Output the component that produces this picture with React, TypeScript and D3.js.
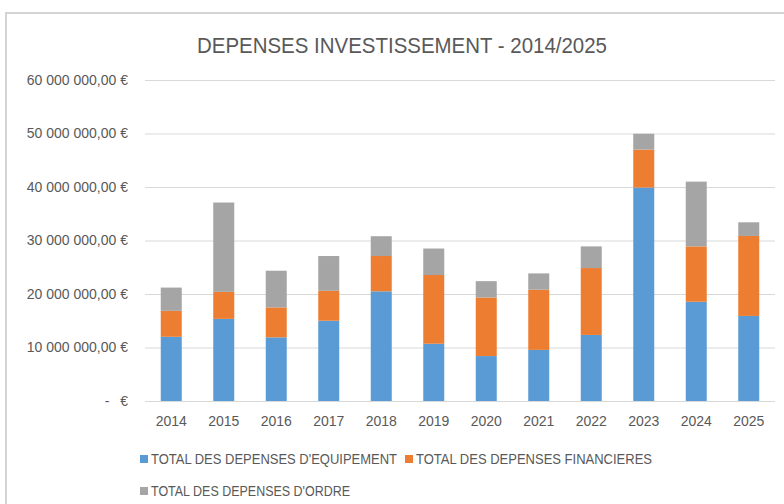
import React, { useEffect, useRef } from 'react';
import * as d3 from 'd3';

const years = ['2014', '2015', '2016', '2017', '2018', '2019', '2020', '2021', '2022', '2023', '2024', '2025'];

// values in euros (millions)
const equipement = [12.0, 15.35, 11.9, 15.0, 20.5, 10.7, 8.4, 9.55, 12.35, 39.9, 18.55, 15.9].map((v) => v * 1e6);
const financieres = [4.85, 5.05, 5.6, 5.6, 6.6, 12.85, 10.95, 11.25, 12.5, 7.1, 10.35, 14.95].map((v) => v * 1e6);
const ordre = [4.35, 16.7, 6.85, 6.5, 3.7, 4.95, 3.05, 3.05, 4.05, 2.95, 12.1, 2.55].map((v) => v * 1e6);

const seriesNames = [
  "TOTAL DES DEPENSES D'EQUIPEMENT",
  'TOTAL DES DEPENSES FINANCIERES',
  "TOTAL DES DEPENSES D'ORDRE",
];
const colors = ['#5B9BD5', '#ED7D31', '#A5A5A5'];
const yTicks = [0, 10e6, 20e6, 30e6, 40e6, 50e6, 60e6];

const WIDTH = 784;
const HEIGHT = 504;
const FONT = "'Liberation Sans', Arial, sans-serif";
const TEXT = '#595959';

const StackedChart = () => {
  const svgRef = useRef(null);

  useEffect(() => {
    const svg = d3.select(svgRef.current);
    svg.selectAll('*').remove();

    const margin = { top: 80, right: 9, bottom: 103, left: 145 };
    const innerWidth = WIDTH - margin.left - margin.right;
    const innerHeight = HEIGHT - margin.top - margin.bottom;

    // chart frame (runs off the right/bottom of the picture)
    svg.append('rect')
      .attr('x', 6)
      .attr('y', 13)
      .attr('width', 820)
      .attr('height', 540)
      .attr('fill', '#fff')
      .attr('stroke', '#D4D4D4')
      .attr('stroke-width', 2);

    svg.append('text')
      .attr('x', 402)
      .attr('y', 45)
      .attr('dy', '0.35em')
      .attr('text-anchor', 'middle')
      .attr('font-size', 21.5)
      .attr('textLength', 410)
      .attr('lengthAdjust', 'spacingAndGlyphs')
      .attr('fill', TEXT)
      .text('DEPENSES INVESTISSEMENT - 2014/2025');

    const x = d3.scaleBand()
      .domain(years)
      .range([0, innerWidth])
      .paddingInner(0.6)
      .paddingOuter(0.3);

    const y = d3.scaleLinear()
      .domain([0, 60e6])
      .range([innerHeight, 0]);

    const fr = d3.formatLocale({ decimal: ',', thousands: ' ', grouping: [3], currency: ['', ' €'] });
    const euro = fr.format('$,.2f');

    const g = svg.append('g')
      .attr('transform', `translate(${margin.left}, ${margin.top})`);

    // y axis with gridlines
    const yAxis = g.append('g')
      .call(d3.axisLeft(y).tickValues(yTicks).tickSize(-innerWidth).tickPadding(17).tickFormat((d) => (d === 0 ? '€' : euro(d))));
    yAxis.select('.domain').remove();
    yAxis.selectAll('.tick line').attr('stroke', '#D9D9D9');
    yAxis.selectAll('.tick text')
      .attr('font-family', FONT)
      .attr('font-size', 14)
      .attr('fill', TEXT);
    yAxis.selectAll('.tick')
      .filter((d) => d === 0)
      .append('text')
      .attr('x', -38)
      .attr('dy', '0.32em')
      .attr('text-anchor', 'middle')
      .attr('font-family', FONT)
      .attr('font-size', 14)
      .attr('fill', TEXT)
      .text('-');

    const stack = d3.stack().keys([0, 1, 2]).value((d, k) => d[k]);
    const rows = years.map((yr, i) => [equipement[i], financieres[i], ordre[i]]);
    const layers = stack(rows);

    g.selectAll('.layer')
      .data(layers)
      .enter()
      .append('g')
      .attr('fill', (d, i) => colors[i])
      .selectAll('rect')
      .data((d) => d)
      .enter()
      .append('rect')
      .attr('x', (d, i) => x(years[i]))
      .attr('width', x.bandwidth())
      .attr('y', (d) => y(d[1]))
      .attr('height', (d) => y(d[0]) - y(d[1]));

    // x axis
    const xAxis = g.append('g')
      .attr('transform', `translate(0, ${innerHeight})`)
      .call(d3.axisBottom(x).tickSize(0).tickPadding(15));
    xAxis.select('.domain').remove();
    xAxis.selectAll('.tick text')
      .attr('font-family', FONT)
      .attr('font-size', 14)
      .attr('fill', TEXT);

    // legend
    const legendPos = [
      { x: 140, y: 459, w: 246 },
      { x: 405, y: 459, w: 236 },
      { x: 140, y: 491, w: 199 },
    ];
    const legend = svg.selectAll('.legend')
      .data(seriesNames)
      .enter()
      .append('g')
      .attr('class', 'legend')
      .attr('transform', (d, i) => `translate(${legendPos[i].x}, ${legendPos[i].y})`);
    legend.append('rect')
      .attr('x', 0)
      .attr('y', -4)
      .attr('width', 8)
      .attr('height', 8)
      .attr('fill', (d, i) => colors[i]);
    legend.append('text')
      .attr('x', 11)
      .attr('dy', '0.35em')
      .attr('font-size', 14)
      .attr('textLength', (d, i) => legendPos[i].w)
      .attr('lengthAdjust', 'spacingAndGlyphs')
      .attr('fill', TEXT)
      .text((d) => d);
  }, []);

  return (
    <svg
      ref={svgRef}
      width={WIDTH}
      height={HEIGHT}
      fontFamily={FONT}
      style={{ position: 'absolute', left: 0, top: 0, display: 'block', background: '#fff' }}
    />
  );
};

export default function App() {
  return <StackedChart />;
}
